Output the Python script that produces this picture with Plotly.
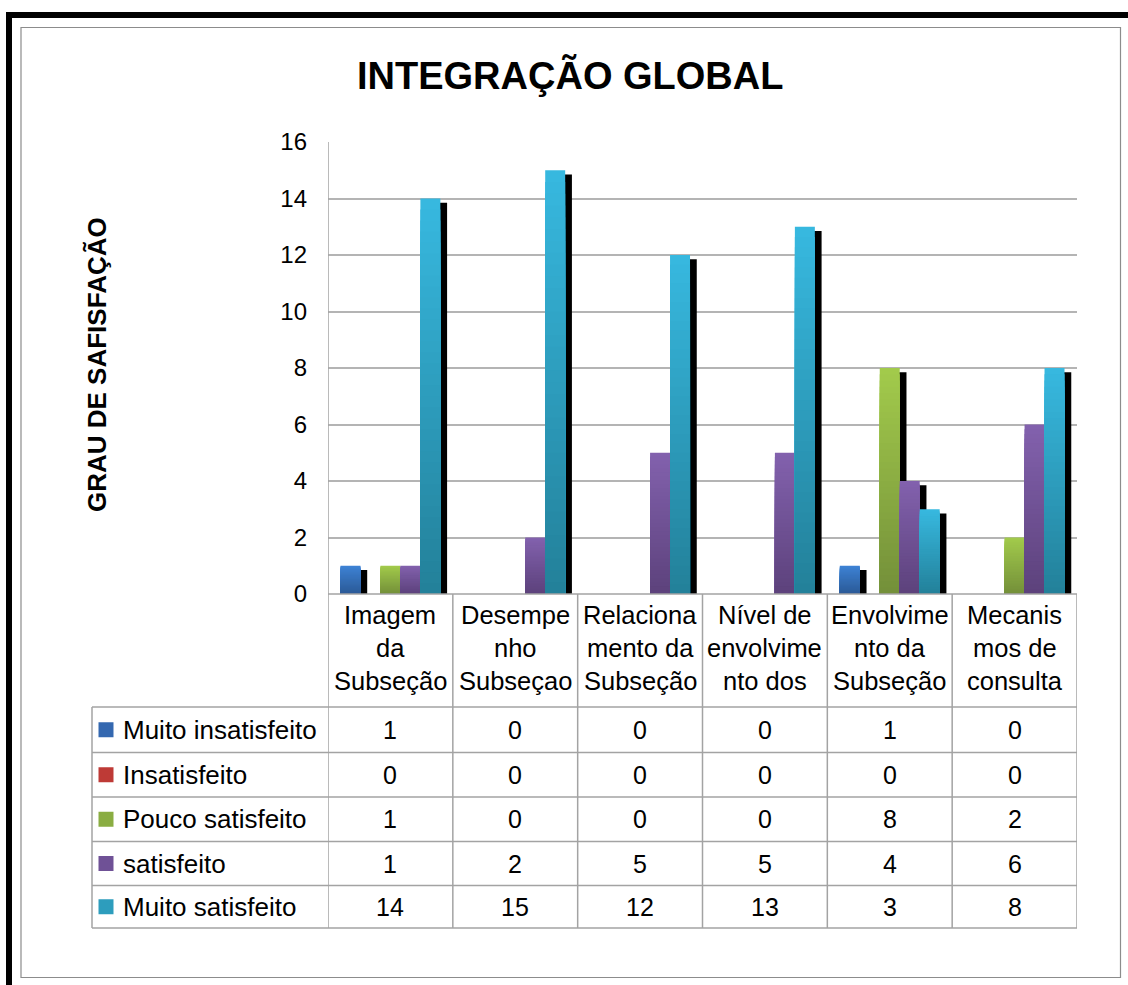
import plotly.graph_objects as go

# ---------------- data ----------------
category_lines = [
    ["Imagem", "da", "Subseção"],
    ["Desempe", "nho", "Subseçao"],
    ["Relaciona", "mento da", "Subseção"],
    ["Nível de", "envolvime", "nto dos"],
    ["Envolvime", "nto da", "Subseção"],
    ["Mecanis", "mos de", "consulta"],
]
series_names = ["Muito insatisfeito", "Insatisfeito", "Pouco satisfeito",
                "satisfeito", "Muito satisfeito"]
muito_insatisfeito = [1, 0, 0, 0, 1, 0]
insatisfeito = [0, 0, 0, 0, 0, 0]
pouco_satisfeito = [1, 0, 0, 0, 8, 2]
satisfeito = [1, 2, 5, 5, 4, 6]
muito_satisfeito = [14, 15, 12, 13, 3, 8]
series_values = [muito_insatisfeito, insatisfeito, pouco_satisfeito,
                 satisfeito, muito_satisfeito]
y_ticks = [0, 2, 4, 6, 8, 10, 12, 14, 16]

title_text = "INTEGRAÇÃO GLOBAL"
y_title_text = "GRAU DE SAFISFAÇÃO"

# ---------------- style ----------------
top_colors = ["#3e82d4", "#d24a45", "#a2ca4b", "#8261ad", "#37b8df"]
bottom_colors = ["#2b5a97", "#9c2f2b", "#74903a", "#5d427c", "#23819a"]
mid_colors = ["#3468b0", "#be3a36", "#8aad42", "#6f5196", "#2d9dbd"]

W, H = 1128, 985
L, R, T, B = 328, 1077, 142, 594
FONT = "Liberation Sans, Arial, sans-serif"
TABLE_C = "#a3a3a3"
N_GRAD = 36


def pxx(x):
    return (x - L) / (R - L)


def pxy(y):
    return (B - y) / (B - T)


def hexmix(c1, c2, t):
    a = [int(c1[i:i + 2], 16) for i in (1, 3, 5)]
    b = [int(c2[i:i + 2], 16) for i in (1, 3, 5)]
    return "#" + "".join(f"{round(a[j] + (b[j] - a[j]) * t):02x}" for j in range(3))


n_cat = len(category_lines)
xs = list(range(n_cat))
bar_w = 0.16
group_left = -0.4
shadow_dx = 0.054
shadow_dy = 0.15

fig = go.Figure()

# shadows
for i, vals in enumerate(series_values):
    fig.add_trace(go.Bar(
        x=xs, y=[v - shadow_dy if v > 0 else 0 for v in vals],
        offset=group_left + i * bar_w + shadow_dx, width=bar_w,
        marker=dict(color="black", line=dict(width=0)),
        showlegend=False, hoverinfo="skip"))

# bars with vertical gradient (overlaid, shrinking, darker towards the base)
for i, vals in enumerate(series_values):
    for k in range(N_GRAD):
        frac = (N_GRAD - k) / N_GRAD
        col = hexmix(top_colors[i], bottom_colors[i], k / (N_GRAD - 1))
        fig.add_trace(go.Bar(
            x=xs, y=[v * frac for v in vals],
            offset=group_left + i * bar_w, width=bar_w,
            marker=dict(color=col, line=dict(width=0)),
            name=series_names[i], showlegend=False,
            hoverinfo="skip" if k else None,
            customdata=vals,
            hovertemplate="%{customdata}<extra>" + series_names[i] + "</extra>"))

shapes = []
ann = []

# outer thick black frame and inner gray frame
shapes.append(dict(type="rect", xref="paper", yref="paper",
                   x0=pxx(9), x1=pxx(1140), y0=pxy(15), y1=pxy(1000),
                   line=dict(color="black", width=6), layer="below"))
shapes.append(dict(type="rect", xref="paper", yref="paper",
                   x0=pxx(21), x1=pxx(1120.5), y0=pxy(27.5), y1=pxy(977.5),
                   line=dict(color="#8c8c8c", width=1.2), layer="below"))

# table geometry
row_lines = [707, 752.5, 797, 841.5, 885.5, 928]
legend_left = 92

# horizontal line at axis base
shapes.append(dict(type="line", xref="paper", yref="paper",
                   x0=0, x1=1, y0=0, y1=0, line=dict(color=TABLE_C, width=1.5)))
for yl in row_lines:
    shapes.append(dict(type="line", xref="paper", yref="paper",
                       x0=pxx(legend_left), x1=1, y0=pxy(yl), y1=pxy(yl),
                       line=dict(color=TABLE_C, width=1.5)))
# left legend column border
shapes.append(dict(type="line", xref="paper", yref="paper",
                   x0=pxx(legend_left), x1=pxx(legend_left),
                   y0=pxy(row_lines[0]), y1=pxy(row_lines[-1]),
                   line=dict(color=TABLE_C, width=1.5)))
# y-axis line running down through the table
shapes.append(dict(type="line", xref="x", yref="paper",
                   x0=-0.5, x1=-0.5, y0=1, y1=pxy(row_lines[-1]),
                   line=dict(color=TABLE_C, width=1.5)))
# category separators
for c in range(1, n_cat + 1):
    shapes.append(dict(type="line", xref="x", yref="paper",
                       x0=c - 0.5, x1=c - 0.5, y0=0, y1=pxy(row_lines[-1]),
                       line=dict(color=TABLE_C, width=1.5)))

# category header labels
line_y = [615, 648, 681]
for c, lines in enumerate(category_lines):
    for j, t in enumerate(lines):
        ann.append(dict(x=c, y=pxy(line_y[j]), xref="x", yref="paper",
                        text=t, showarrow=False, xanchor="center", yanchor="middle",
                        font=dict(family=FONT, size=25.5, color="black")))

# table rows
for i, vals in enumerate(series_values):
    yc = (row_lines[i] + row_lines[i + 1]) / 2
    shapes.append(dict(type="rect", xref="paper", yref="paper",
                       x0=pxx(98.5), x1=pxx(113.5), y0=pxy(yc - 7.5), y1=pxy(yc + 7.5),
                       fillcolor=mid_colors[i], line=dict(width=0)))
    ann.append(dict(x=pxx(121), y=pxy(yc), xref="paper", yref="paper",
                    text=series_names[i], showarrow=False, xanchor="left", yanchor="middle",
                    font=dict(family=FONT, size=26, color="black")))
    for c, v in enumerate(vals):
        ann.append(dict(x=c, y=pxy(yc), xref="x", yref="paper",
                        text=str(v), showarrow=False, xanchor="center", yanchor="middle",
                        font=dict(family=FONT, size=25, color="black")))

# titles
ann.append(dict(x=pxx(570), y=pxy(75), xref="paper", yref="paper",
                text=title_text, showarrow=False, xanchor="center", yanchor="middle",
                font=dict(family=FONT, size=38, color="black", weight="bold")))
ann.append(dict(x=pxx(97), y=pxy(365), xref="paper", yref="paper",
                text=y_title_text, showarrow=False, textangle=-90,
                xanchor="center", yanchor="middle",
                font=dict(family=FONT, size=26, color="black", weight="bold")))

fig.update_layout(
    width=W, height=H,
    margin=dict(l=L, r=W - R, t=T, b=H - B, pad=0),
    paper_bgcolor="white", plot_bgcolor="white",
    barmode="overlay",
    showlegend=False,
    shapes=shapes, annotations=ann,
    xaxis=dict(range=[-0.5, n_cat - 0.5], showticklabels=False, showgrid=False,
               zeroline=False, showline=False, fixedrange=True),
    yaxis=dict(range=[0, 16], tickvals=y_ticks, ticktext=[str(t) for t in y_ticks],
               showgrid=True, gridcolor="#b4b4b4", gridwidth=1.5,
               zeroline=False, showline=False, ticks="",
               ticklabelstandoff=20,
               tickfont=dict(family=FONT, size=24, color="black"), fixedrange=True),
)

fig.write_html("out.html", config={"displayModeBar": False},
               post_script="document.body.style.margin='0';")
